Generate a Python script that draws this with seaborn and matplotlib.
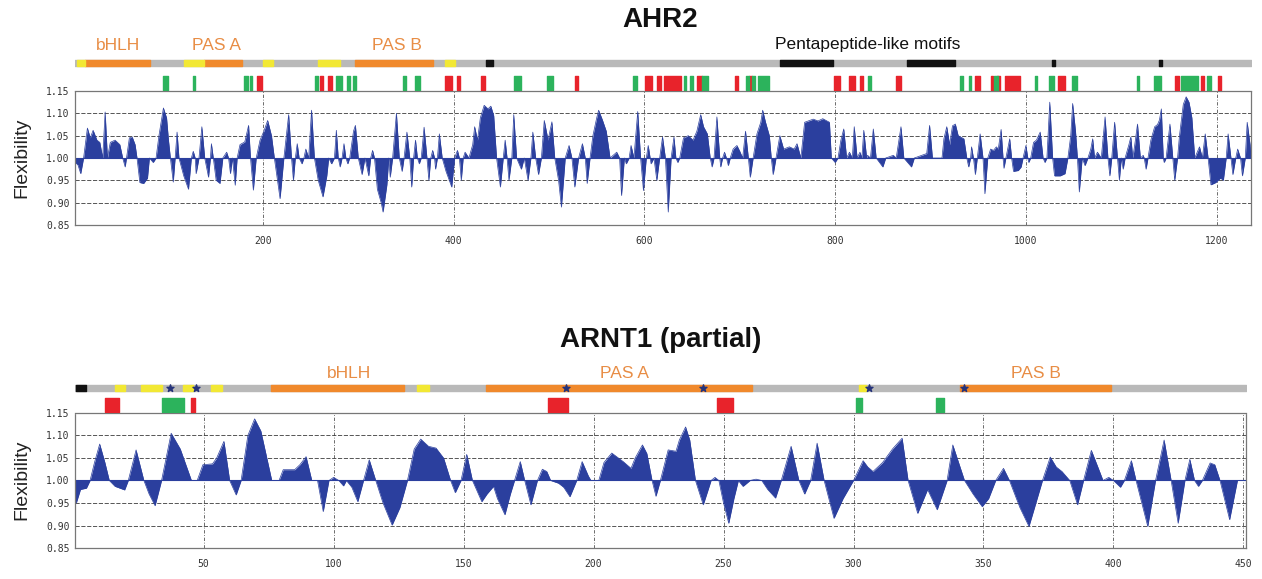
import matplotlib
matplotlib.use('Agg')
import matplotlib.pyplot as plt
import seaborn as sns

# ----------------------------------------------------
# AHR2 flexibility profile (residue, flexibility)
# ----------------------------------------------------
ahr2_pos = [3, 6, 9, 12, 16, 19, 22, 26, 29, 32, 34.6, 37, 40, 45, 50, 53, 55.6, 57, 60, 63,
            66, 68, 71, 75, 79, 81, 85, 88, 91, 95.7, 99, 101, 103, 106, 108, 110, 112, 117, 122, 125,
            127, 129, 130, 133, 136, 139, 143, 145, 146, 148, 151, 155, 158, 162, 164, 166, 168, 171, 173, 176,
            181, 185, 187, 190, 193, 197, 201, 205, 209, 212, 218, 222, 227, 230, 232, 234, 236, 238, 241, 243,
            245, 248, 251, 254, 258, 263, 267, 269, 272, 275, 277, 279, 281, 283, 285, 287, 289, 291, 295, 297,
            300, 304, 307, 311, 313, 315, 317, 320, 324, 326, 330, 332, 333.5, 336, 340, 343, 346, 348, 351, 354,
            356, 358, 360, 362, 364, 366, 369, 372, 374, 376, 378, 380, 381, 383, 385, 388, 392, 398, 401, 404,
            406, 408, 410, 412, 416, 420, 422, 425, 428, 432, 436, 439, 442, 445, 449, 452, 454, 456, 458, 461,
            463, 466, 471, 474, 478, 481, 483, 486, 489, 492, 495, 499, 503, 506, 510, 513, 517, 521, 524, 527,
            531, 535, 538, 540, 543, 546, 550, 552, 556, 560, 564, 571, 574, 576, 579, 581, 584, 586, 589, 593,
            596, 599, 602, 604, 606, 607, 610, 613, 616, 619, 622, 625, 628, 631, 633, 635, 637, 641, 646, 651,
            655, 659, 662, 666, 669, 671, 673, 676, 679, 680, 682, 684, 686, 688, 690, 693, 697, 700, 703, 706,
            709, 711, 714, 718, 722, 724, 727, 731, 733, 735, 738, 742, 746, 752, 757, 760, 764, 768, 772, 777,
            782, 787, 794, 796, 800, 803, 806, 809, 812, 815, 818, 820, 823, 826, 828, 830, 833, 834, 837, 840,
            843, 850, 853, 861, 864, 869, 872, 880, 883, 896, 899, 902, 912, 914, 917, 920, 923, 926, 929, 935,
            938, 940, 942, 943, 945, 947, 949, 952, 955, 957, 960, 963, 966, 969, 971, 974, 976, 977, 979, 983,
            985, 987, 992, 995, 997, 1000, 1002, 1003, 1005, 1008, 1011, 1015, 1018, 1020, 1022, 1025, 1028, 1030, 1036, 1041,
            1044, 1047, 1049, 1052, 1054, 1056, 1059, 1062, 1065, 1068, 1070, 1072, 1075, 1079, 1083, 1086, 1088, 1090, 1093, 1096,
            1098, 1100, 1102, 1104, 1108, 1110, 1112, 1114, 1117, 1120, 1123, 1124, 1126, 1128, 1131, 1135, 1138, 1140, 1142, 1144,
            1145, 1147, 1151, 1154, 1156, 1159, 1161, 1165, 1168, 1171, 1174, 1177, 1182, 1185, 1188, 1191, 1194, 1199, 1204, 1207,
            1210, 1212, 1215, 1217, 1220, 1222, 1225, 1227, 1230, 1232, 1235, 1236]
ahr2_flex = [0.990, 0.985, 0.965, 1.000, 1.067, 1.045, 1.062, 1.040, 1.035, 1.000, 1.103, 1.000, 1.035, 1.040, 1.030, 1.000, 0.980, 1.000, 1.045, 1.047,
             1.030, 1.000, 0.945, 0.943, 0.955, 1.000, 0.990, 1.000, 1.050, 1.112, 1.090, 1.040, 1.000, 0.946, 1.000, 1.058, 1.000, 0.960, 0.930, 1.000,
             1.015, 1.000, 0.965, 1.000, 1.070, 1.000, 0.957, 1.000, 1.032, 1.000, 0.950, 0.943, 1.000, 1.013, 1.000, 0.965, 1.000, 0.939, 1.000, 1.030,
             1.036, 1.073, 1.000, 0.928, 1.000, 1.040, 1.060, 1.084, 1.050, 1.000, 0.909, 1.000, 1.097, 1.000, 0.950, 1.000, 1.032, 1.000, 0.987, 1.000,
             1.020, 1.000, 1.107, 1.000, 0.950, 0.913, 0.960, 1.000, 0.987, 1.000, 1.062, 1.000, 0.980, 1.000, 1.032, 1.000, 0.987, 1.000, 1.060, 1.073,
             1.000, 0.963, 1.000, 0.960, 1.000, 1.017, 1.000, 0.930, 0.900, 0.879, 0.940, 1.000, 0.957, 1.000, 1.100, 1.000, 0.970, 1.000, 1.058, 1.000,
             0.935, 1.000, 1.040, 1.000, 0.987, 1.000, 1.069, 1.000, 0.950, 1.000, 1.017, 1.000, 0.975, 1.000, 1.054, 1.000, 0.970, 0.935, 1.000, 1.017,
             1.000, 0.950, 1.000, 1.013, 1.000, 1.030, 1.070, 1.040, 1.090, 1.118, 1.110, 1.116, 1.095, 1.000, 0.935, 1.000, 1.040, 1.000, 0.950, 1.000,
             1.097, 1.000, 0.975, 1.000, 0.950, 1.000, 1.058, 1.000, 0.963, 1.000, 1.084, 1.040, 1.081, 1.000, 0.950, 0.890, 1.000, 1.028, 1.000, 0.935,
             1.000, 1.032, 1.000, 0.943, 1.000, 1.050, 1.090, 1.107, 1.085, 1.060, 1.000, 1.013, 1.000, 0.916, 1.000, 0.987, 1.000, 1.028, 1.000, 1.104,
             1.000, 0.927, 1.000, 1.028, 1.000, 0.987, 1.000, 0.950, 1.000, 1.047, 1.000, 0.879, 1.000, 1.047, 1.000, 0.990, 1.000, 1.045, 1.050, 1.040,
             1.060, 1.097, 1.070, 1.054, 1.000, 0.980, 1.000, 1.092, 1.000, 0.980, 1.000, 1.013, 1.000, 0.983, 1.000, 1.020, 1.028, 1.015, 1.000, 1.060,
             1.000, 0.957, 1.000, 1.054, 1.080, 1.107, 1.080, 1.050, 1.000, 0.963, 1.000, 1.050, 1.020, 1.025, 1.020, 1.032, 1.000, 1.080, 1.083, 1.087,
             1.083, 1.088, 1.080, 1.000, 0.990, 1.000, 1.040, 1.065, 1.000, 1.013, 1.000, 1.070, 1.000, 1.013, 1.000, 1.062, 1.000, 1.006, 1.000, 1.065,
             1.000, 0.980, 1.000, 1.006, 1.000, 1.070, 1.000, 0.980, 1.000, 1.010, 1.073, 1.000, 1.000, 1.043, 1.070, 1.030, 1.072, 1.076, 1.050, 1.043,
             1.000, 0.980, 1.000, 1.025, 1.000, 0.963, 1.000, 1.054, 1.000, 0.920, 1.000, 1.020, 1.017, 1.025, 1.020, 1.064, 1.000, 0.977, 1.000, 1.043,
             1.000, 0.970, 0.972, 0.980, 1.000, 1.028, 1.000, 0.990, 1.000, 1.035, 1.040, 1.058, 1.000, 0.990, 1.000, 1.125, 1.000, 0.960, 0.960, 0.965,
             1.000, 1.050, 1.122, 1.060, 1.000, 0.924, 1.000, 0.983, 1.000, 1.020, 1.043, 1.000, 1.013, 1.000, 1.092, 1.000, 0.960, 1.000, 1.080, 1.000,
             0.950, 1.000, 0.975, 1.000, 1.030, 1.047, 1.000, 1.028, 1.076, 1.000, 1.006, 1.000, 0.975, 1.000, 1.040, 1.070, 1.075, 1.085, 1.110, 1.000,
             0.990, 1.000, 1.076, 1.000, 0.950, 1.000, 1.050, 1.120, 1.137, 1.125, 1.090, 1.000, 1.025, 1.000, 1.054, 1.000, 0.940, 0.945, 0.955, 0.950,
             1.000, 1.054, 1.000, 0.963, 1.000, 1.020, 1.000, 0.960, 1.000, 1.080, 1.030, 1.000]

# domain track (start, end residue)
ahr2_orange = [(13, 82), (138, 178), (297, 378)]
ahr2_yellow = [(5, 13), (117, 138), (200, 211), (258, 281), (391, 401)]
ahr2_black = [(434, 441), (742, 798), (875, 926), (1027, 1030), (1140, 1143)]
ahr2_red = [(193.5, 199), (260, 263.5), (268.7, 272), (391, 398), (403, 407), (429, 432.8), (527, 530.7),
            (601, 607.5), (613, 616.9), (621, 638), (654.7, 660), (695, 698.5), (710, 713), (799, 805), (814, 821),
            (826, 829.5), (864, 869), (947, 952), (963, 966), (970, 973), (978, 994), (1034, 1041), (1156, 1161),
            (1184, 1187), (1201, 1205)]
ahr2_green = [(95, 101), (126.5, 129), (180, 184), (186, 189), (255, 258), (277, 283), (288.6, 291), (294, 298),
              (347, 350), (359.5, 365), (463.7, 470.6), (497.5, 504.5), (588.4, 592.7), (641, 643.3), (647.8, 650.6),
              (660, 667), (706.5, 710), (713, 716), (719.4, 731), (834.6, 838), (930.8, 934), (940, 942), (967, 971),
              (1009.5, 1012), (1024.5, 1029.3), (1048, 1054), (1116, 1118.5), (1134, 1142), (1163, 1180.5), (1190, 1194)]
ahr2_labels = ['bHLH', 'PAS A', 'PAS B', 'Pentapeptide-like motifs']
ahr2_label_pos = [48, 151, 341, 834]
ahr2_xticks = [200, 400, 600, 800, 1000, 1200]

# ----------------------------------------------------
# ARNT1 (partial) flexibility profile
# ----------------------------------------------------
arnt1_pos = [0.5, 1, 2.6, 4.9, 6.3, 8, 10, 12, 13.7, 15.9, 19.6, 21, 24, 27, 29, 31.3, 33.8, 37.5, 41, 45.3,
             47.5, 49.7, 53.4, 55, 57.8, 60, 62.5, 64.4, 67, 69.6, 72, 76.2, 79, 80.6, 85, 87, 89.4, 91.6, 93.8, 96,
             98.2, 100, 102, 103.8, 104.9, 107, 109.3, 111.5, 113.7, 116.2, 119, 122.5, 125.5, 128.4, 131, 133.5, 136.5, 139.4, 142.3, 145,
             146.8, 149, 151.2, 153.4, 157, 159, 161.5, 163, 165.9, 168, 169.6, 171.8, 173.5, 175.9, 178.4, 180.3, 182, 183.5, 186.5, 188.5,
             190.9, 193.5, 195.6, 198, 199, 202, 204, 207, 211.4, 214.4, 216, 218.8, 220.5, 222.5, 224, 225.7, 228.7, 231.7, 233, 235.4,
             237, 239.2, 242.2, 245.2, 246.7, 248.2, 250, 252, 254, 255.7, 257.5, 260.2, 262.5, 264.7, 267, 270, 272.2, 276, 279, 281.2,
             283.5, 286, 288.7, 290.5, 292.5, 296, 300, 303.7, 305.5, 307.5, 311.2, 315, 318.7, 321, 324.7, 328.5, 332.2, 336, 338.2, 342.7,
             346, 349.5, 352, 354.7, 357.7, 360, 364, 367.5, 372.7, 375.7, 378, 380.2, 383.2, 386.2, 388.5, 391.5, 394, 396, 398.2, 400,
             402.7, 404.2, 406.9, 408.7, 413.2, 416.2, 419.5, 422.2, 424.9, 427.5, 429.4, 431.2, 432.7, 434.2, 437.2, 439, 441, 444.7, 447.7, 451]
arnt1_flex = [0.960, 0.950, 0.980, 0.983, 1.000, 1.040, 1.081, 1.040, 1.000, 0.987, 0.979, 1.000, 1.068, 1.000, 0.970, 0.944, 1.000, 1.105, 1.070, 1.000,
              1.000, 1.035, 1.037, 1.050, 1.087, 1.000, 0.968, 1.000, 1.100, 1.137, 1.110, 1.000, 1.000, 1.024, 1.024, 1.035, 1.053, 1.000, 1.000, 0.931,
              1.000, 1.007, 1.000, 0.988, 1.000, 0.985, 0.953, 1.000, 1.046, 1.000, 0.950, 0.901, 0.940, 1.000, 1.070, 1.092, 1.076, 1.072, 1.050, 1.000,
              0.973, 1.000, 1.058, 1.000, 0.953, 0.970, 0.987, 0.960, 0.924, 0.970, 1.000, 1.042, 1.000, 0.946, 1.000, 1.025, 1.020, 1.000, 0.994, 0.985,
              0.964, 1.000, 1.042, 1.010, 1.000, 1.000, 1.040, 1.061, 1.042, 1.027, 1.050, 1.079, 1.060, 1.000, 0.965, 1.000, 1.068, 1.065, 1.090, 1.119,
              1.090, 1.000, 0.946, 1.000, 1.007, 1.000, 0.950, 0.905, 0.960, 1.000, 0.987, 1.000, 1.003, 1.000, 0.980, 0.961, 1.000, 1.076, 1.000, 0.970,
              1.000, 1.083, 1.000, 0.960, 0.916, 0.960, 1.000, 1.044, 1.030, 1.020, 1.040, 1.070, 1.094, 1.000, 0.927, 0.980, 0.935, 1.000, 1.079, 1.000,
              0.970, 0.942, 0.960, 1.000, 1.027, 1.000, 0.940, 0.898, 1.000, 1.052, 1.030, 1.020, 1.000, 0.946, 1.000, 1.067, 1.030, 1.000, 1.007, 1.000,
              0.985, 1.000, 1.044, 1.000, 0.898, 1.000, 1.090, 1.000, 0.905, 1.000, 1.047, 1.000, 0.987, 1.000, 1.039, 1.035, 1.000, 0.913, 1.000, 1.000]

arnt1_orange = [(76, 127), (158.5, 261), (341, 399)]
arnt1_yellow = [(16, 19.6), (26, 34), (42, 46), (53, 57), (132, 136.5), (302, 305)]
arnt1_black = [(0.9, 4.9)]
arnt1_stars = [37.2, 47, 189.4, 242.2, 306, 342.7]
arnt1_red = [(12.2, 17.4), (45, 46.8), (182.4, 190.1), (247.5, 253.5)]
arnt1_green = [(34, 42.4), (301, 303.4), (331.8, 334.8)]
arnt1_labels = ['bHLH', 'PAS A', 'PAS B']
arnt1_label_pos = [106, 212, 370]
arnt1_xticks = [50, 100, 150, 200, 250, 300, 350, 400, 450]

yticks = [0.85, 0.90, 0.95, 1.00, 1.05, 1.10, 1.15]

# ----------------------------------------------------
# colours
# ----------------------------------------------------
BLUE = '#2b3f9e'
ORANGE = '#f0892c'
LABEL_ORANGE = '#e88d45'
GRAY = '#b9b9b9'
YELLOW = '#f2e834'
RED = '#e8232b'
GREEN = '#2cb35c'
STAR = '#26337a'

W, H = 1262, 579


def px_rect(left, top, right, bottom):
    return [left / W, 1 - bottom / H, (right - left) / W, (bottom - top) / H]


def spans(lst):
    return [(a, b - a) for a, b in lst]


def draw_panel(fig, plot_box, track_box, pos, flex, xlim, xticks, orange, yellow, black,
               red, green, labels, label_pos, label_colors, bar_y, label_y, stars=None):
    ax = fig.add_axes(px_rect(*plot_box))
    ax.fill_between(pos, flex, 1.0, color=BLUE, lw=0)
    sns.lineplot(x=pos, y=flex, ax=ax, color=BLUE, lw=0.5, sort=False)
    ax.axhline(1.0, color=BLUE, lw=0.8)
    ax.set_xlim(*xlim)
    ax.set_ylim(0.85, 1.15)
    ax.set_xticks(xticks)
    ax.set_yticks(yticks)
    ax.set_yticklabels(['%.2f' % v for v in yticks])
    ax.grid(True, axis='y', ls=(0, (5, 2)), color='#3a3a3a', lw=0.6)
    ax.grid(True, axis='x', ls=(0, (4, 2, 1, 2)), color='#555555', lw=0.6)
    ax.set_axisbelow(True)
    for s in ax.spines.values():
        s.set_linestyle((0, (2, 1)))
        s.set_color('#777777')
        s.set_linewidth(0.9)
    ax.tick_params(axis='y', length=3, pad=1, labelsize=7, colors='#333333')
    ax.tick_params(axis='x', length=5, pad=3, labelsize=7, colors='#333333')
    for t in ax.get_xticklabels() + ax.get_yticklabels():
        t.set_family('DejaVu Sans Mono')
    ax.set_xlabel('')
    ax.set_ylabel('')

    tr = fig.add_axes(px_rect(*track_box), sharex=None)
    tr.set_xlim(*xlim)
    tr.set_ylim(0, 36)
    tr.axis('off')
    h = 6
    tr.broken_barh([(xlim[0], xlim[1] - xlim[0])], (bar_y - h / 2, h), color=GRAY)
    tr.broken_barh(spans(orange), (bar_y - h / 2, h), color=ORANGE)
    tr.broken_barh(spans(yellow), (bar_y - h / 2, h), color=YELLOW)
    tr.broken_barh(spans(black), (bar_y - h / 2, h), color='#111111')
    tr.broken_barh(spans(red), (1, 14), color=RED)
    tr.broken_barh(spans(green), (1, 14), color=GREEN)
    if stars:
        tr.scatter(stars, [bar_y] * len(stars), marker='*', s=28, color=STAR, zorder=5)
    for lab, x, c in zip(labels, label_pos, label_colors):
        tr.text(x, label_y, lab, ha='center', va='center', fontsize=12.5, color=c,
                family='Liberation Sans', clip_on=False)
    return ax


sns.set_theme(style='white')
plt.rcParams['font.family'] = ['Liberation Sans', 'DejaVu Sans']

fig = plt.figure(figsize=(W / 100, H / 100), dpi=100)

draw_panel(fig, (75, 91, 1251, 225), (75, 55, 1251, 91), ahr2_pos, ahr2_flex, (3, 1236), ahr2_xticks,
           ahr2_orange, ahr2_yellow, ahr2_black, ahr2_red, ahr2_green, ahr2_labels, ahr2_label_pos,
           [LABEL_ORANGE, LABEL_ORANGE, LABEL_ORANGE, '#111111'], bar_y=28, label_y=46)

draw_panel(fig, (75, 413, 1246, 548), (75, 377, 1246, 413), arnt1_pos, arnt1_flex, (0.5, 451), arnt1_xticks,
           arnt1_orange, arnt1_yellow, arnt1_black, arnt1_red, arnt1_green, arnt1_labels, arnt1_label_pos,
           [LABEL_ORANGE] * 3, bar_y=25, label_y=40, stars=arnt1_stars)

fig.text(660 / W, 1 - 20 / H, 'AHR2', ha='center', va='center', fontsize=20, weight='bold', color='#111111')
fig.text(661 / W, 1 - 340 / H, 'ARNT1 (partial)', ha='center', va='center', fontsize=20, weight='bold',
         color='#111111')
fig.text(22 / W, 1 - 158 / H, 'Flexibility', rotation=90, ha='center', va='center', fontsize=14, color='#222222')
fig.text(22 / W, 1 - 480 / H, 'Flexibility', rotation=90, ha='center', va='center', fontsize=14, color='#222222')

fig.savefig('out.png', dpi=100)
